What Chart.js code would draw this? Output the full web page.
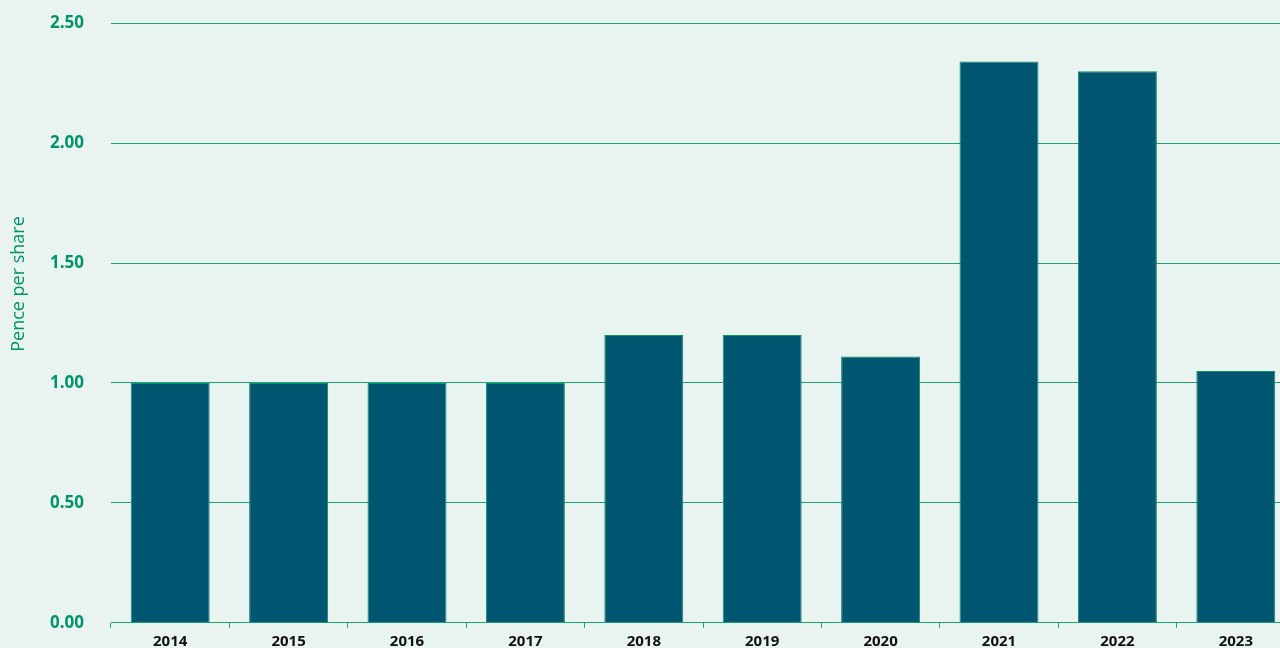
<!DOCTYPE html>
<html>
<head>
<meta charset="utf-8">
<script src="https://cdn.jsdelivr.net/npm/chart.js@4"></script>
<style>
html,body{margin:0;padding:0;background:#e9f3ef;overflow:hidden;}
#wrap{width:1280px;height:648px;position:relative;overflow:hidden;}
#c{position:absolute;left:0;top:-14px;}
</style>
</head>
<body>
<div id="wrap"><canvas id="c" width="1295" height="674"></canvas></div>
<script>
const years = ['2014','2015','2016','2017','2018','2019','2020','2021','2022','2023'];
const pencePerShare = [1.00,1.00,1.00,1.00,1.20,1.20,1.11,2.34,2.30,1.05];
const yTicks = [0,0.5,1.0,1.5,2.0,2.5];
const yTitle = 'Pence per share';

const GREEN = '#00936b';
const GRID = '#1aa277';
const BAR = '#005670';

const titlePlugin = {
  id:'yTitlePlug',
  afterDraw(chart){
    const ctx = chart.ctx;
    ctx.save();
    ctx.translate(19, 298);
    ctx.rotate(-Math.PI/2);
    ctx.font = '18px "Open Sans", sans-serif';
    ctx.fillStyle = GREEN;
    ctx.textAlign = 'center';
    ctx.textBaseline = 'middle';
    ctx.fillText(yTitle, 0, 0);
    ctx.restore();
  }
};

new Chart(document.getElementById('c'), {
  type:'bar',
  data:{
    labels: years,
    datasets:[{
      data: pencePerShare,
      backgroundColor: BAR,
      borderColor: '#0f8f6a',
      borderWidth: 1,
      barPercentage: 0.667,
      categoryPercentage: 1.0
    }]
  },
  options:{
    responsive:false,
    animation:false,
    layout:{padding:{top:0,right:0,bottom:0,left:0}},
    plugins:{legend:{display:false},tooltip:{enabled:false}},
    scales:{
      x:{
        grid:{offset:true, drawOnChartArea:false, tickLength:5, color:GRID},
        border:{color:GRID, width:1},
        ticks:{color:'#111', font:{family:'"Open Sans", sans-serif', size:15, weight:'bold'}, padding:5}
      },
      y:{
        min:0, max:2.5,
        afterFit(s){ s.width = 111; },
        afterBuildTicks(s){ s.ticks = yTicks.map(v=>({value:v})); },
        grid:{drawTicks:false, color:GRID, lineWidth:1},
        border:{display:false},
        ticks:{color:GREEN, padding:27, font:{family:'"Open Sans", sans-serif', size:17, weight:'bold'},
          callback:(v)=>Number(v).toFixed(2)}
      }
    }
  },
  plugins:[titlePlugin]
});
</script>
</body>
</html>
